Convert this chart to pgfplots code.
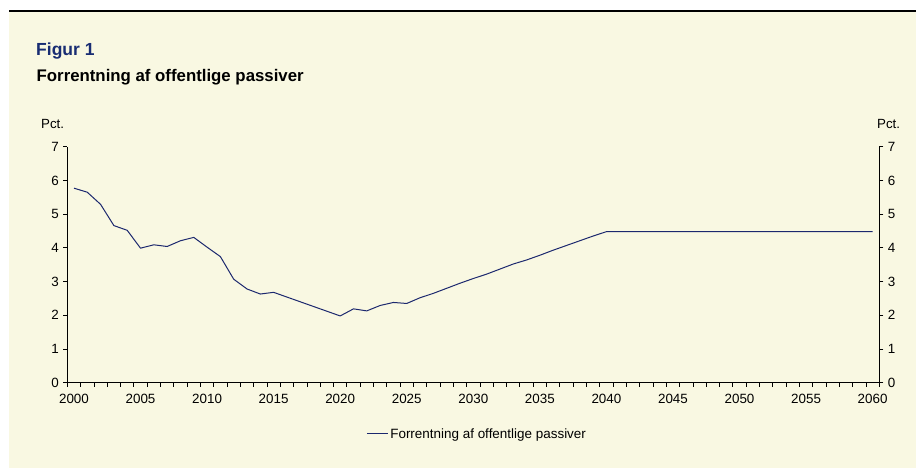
\documentclass[border=0pt]{standalone}
\usepackage{pgfplots}
\pgfplotsset{compat=1.18}
\usepackage{pgfplotstable}
\usepackage{fontspec}
\setmainfont{Liberation Sans}
\definecolor{bg}{RGB}{249,248,226}
\definecolor{navy}{RGB}{28,40,110}
\definecolor{figblue}{RGB}{25,45,115}

\pgfplotstableread{
year val
2000 5.77
2001 5.65
2002 5.29
2003 4.66
2004 4.52
2005 3.99
2006 4.09
2007 4.04
2008 4.21
2009 4.31
2010 4.02
2011 3.74
2012 3.07
2013 2.78
2014 2.63
2015 2.68
2016 2.54
2017 2.40
2018 2.26
2019 2.12
2020 1.98
2021 2.19
2022 2.13
2023 2.29
2024 2.38
2025 2.35
2026 2.52
2027 2.65
2028 2.80
2029 2.95
2030 3.09
2031 3.22
2032 3.37
2033 3.52
2034 3.64
2035 3.78
2036 3.93
2037 4.07
2038 4.21
2039 4.35
2040 4.48
2041 4.48
2042 4.48
2043 4.48
2044 4.48
2045 4.48
2046 4.48
2047 4.48
2048 4.48
2049 4.48
2050 4.48
2051 4.48
2052 4.48
2053 4.48
2054 4.48
2055 4.48
2056 4.48
2057 4.48
2058 4.48
2059 4.48
2060 4.48
}\data

\begin{document}
\begin{tikzpicture}[x=1pt,y=1pt]
\path[use as bounding box] (0,0) rectangle (916,468);
\fill[bg] (9,0) rectangle (916,457);
\draw[black, line width=1.3pt] (9,457) -- (916,457);
\node[anchor=base west, font=\fontsize{17.5}{20}\selectfont\bfseries, text=figblue, inner sep=0] at (36,412) {Figur 1};
\node[anchor=base west, font=\fontsize{16.8}{19}\selectfont\bfseries, inner sep=0] at (36.5,386) {Forrentning af offentlige passiver};
\node[anchor=base west, font=\fontsize{13.3}{15}\selectfont, inner sep=0] at (41,339.7) {Pct.};
\node[anchor=base west, font=\fontsize{13.3}{15}\selectfont, inner sep=0] at (877,339.7) {Pct.};

\begin{axis}[
  at={(67.3pt,85.3pt)}, anchor=south west,
  scale only axis, width=812pt, height=236pt,
  xmin=1999.5, xmax=2060.5, ymin=0, ymax=7,
  axis x line*=bottom, axis y line*=left,
  axis line style={black, line width=0.8pt},
  tick align=outside,
  major tick length=4pt, minor tick length=4pt,
  tick style={black, line width=0.8pt},
  xtick={2000,2005,...,2060},
  minor xtick={1999.5,2000.5,...,2060.5},
  major x tick style={draw=none},
  ytick={0,1,...,7},
  /pgf/number format/1000 sep={},
  /pgf/number format/assume math mode=true,
  ticklabel style={font=\fontsize{13.4}{15}\selectfont},
  xticklabel style={yshift=-4pt},
  yticklabel style={xshift=-1pt},
  legend style={at={(0.368,-0.217)}, anchor=west, draw=none, fill=none, inner sep=0pt,
    font=\fontsize{13.45}{15}\selectfont, legend cell align=left},
  legend image code/.code={\draw[#1] (0pt,0pt) -- (21pt,0pt);},
]
\addplot[navy, line width=1pt] table[x=year,y=val] {\data};
\addlegendentry{Forrentning af offentlige passiver}
\end{axis}

\begin{axis}[
  at={(67.3pt,85.3pt)}, anchor=south west,
  scale only axis, width=812pt, height=236pt,
  xmin=1999.5, xmax=2060.5, ymin=0, ymax=7,
  axis x line=none, axis y line*=right,
  axis line style={black, line width=0.8pt},
  tick align=outside,
  major tick length=4pt,
  tick style={black, line width=0.8pt},
  ytick={0,1,...,7},
  /pgf/number format/assume math mode=true,
  ticklabel style={font=\fontsize{13.4}{15}\selectfont},
  yticklabel style={xshift=1pt},
]
\end{axis}
\end{tikzpicture}
\end{document}
